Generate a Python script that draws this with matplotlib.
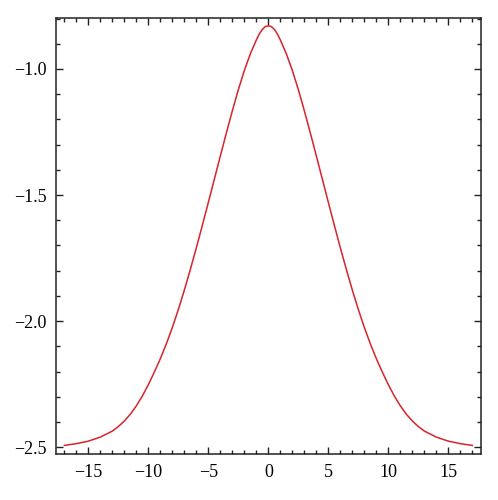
import matplotlib
matplotlib.use("Agg")
import matplotlib.pyplot as plt
from matplotlib.ticker import MultipleLocator

# (curve is symmetric about x = 0)
x_values = [-17, -16, -15, -14, -13, -12.5, -12, -11.5, -11, -10.5, -10, -9.5, -9, -8.5, -8,
            -7.5, -7, -6.5, -6, -5.5, -5, -4.5, -4, -3.5, -3, -2.5, -2, -1.5, -1, -0.75,
            -0.5, -0.25, 0,
            0.25, 0.5, 0.75, 1, 1.5, 2, 2.5, 3, 3.5, 4, 4.5, 5, 5.5, 6, 6.5, 7, 7.5, 8,
            8.5, 9, 9.5, 10, 10.5, 11, 11.5, 12, 12.5, 13, 14, 15, 16, 17]
y_values = [-2.493, -2.486, -2.476, -2.460, -2.436, -2.418, -2.396, -2.369, -2.336, -2.297,
            -2.252, -2.202, -2.149, -2.090, -2.025, -1.954, -1.877, -1.795, -1.709, -1.620,
            -1.529, -1.437, -1.345, -1.254, -1.166, -1.082, -1.006, -0.940, -0.885, -0.861,
            -0.843, -0.832, -0.829,
            -0.832, -0.843, -0.861, -0.885, -0.940, -1.006, -1.082, -1.166, -1.254, -1.345,
            -1.437, -1.529, -1.620, -1.709, -1.795, -1.877, -1.954, -2.025, -2.090, -2.149,
            -2.202, -2.252, -2.297, -2.336, -2.369, -2.396, -2.418, -2.436, -2.460, -2.476,
            -2.486, -2.493]

x_ticks = [-15, -10, -5, 0, 5, 10, 15]
y_ticks = [-2.5, -2.0, -1.5, -1.0]

plt.rcParams['font.family'] = ['Liberation Serif', 'DejaVu Serif']
plt.rcParams['axes.unicode_minus'] = True

fig = plt.figure(figsize=(4.98, 5.0), dpi=100)
ax = fig.add_axes([0.1124, 0.092, 0.8529, 0.873])

ax.plot(x_values, y_values, color='#d9232a', lw=1.1, solid_joinstyle='round')

ax.set_xlim(-17.7, 17.7)
ax.set_ylim(-2.527, -0.796)
ax.set_xticks(x_ticks)
ax.set_yticks(y_ticks)
ax.set_xticklabels([f"{v:d}".replace('-', '\u2212') for v in x_ticks])
ax.set_yticklabels([f"{v:.1f}".replace('-', '\u2212') for v in y_ticks])
ax.xaxis.set_minor_locator(MultipleLocator(1))
ax.yaxis.set_minor_locator(MultipleLocator(0.1))

ax.tick_params(which='both', direction='in', top=True, right=True, width=1.0, color='#222222')
ax.tick_params(which='major', length=5, labelsize=13, pad=7)
ax.tick_params(which='minor', length=3)
for s in ax.spines.values():
    s.set_linewidth(1.1)
    s.set_color('#222222')

fig.savefig('out.png', dpi=100)
